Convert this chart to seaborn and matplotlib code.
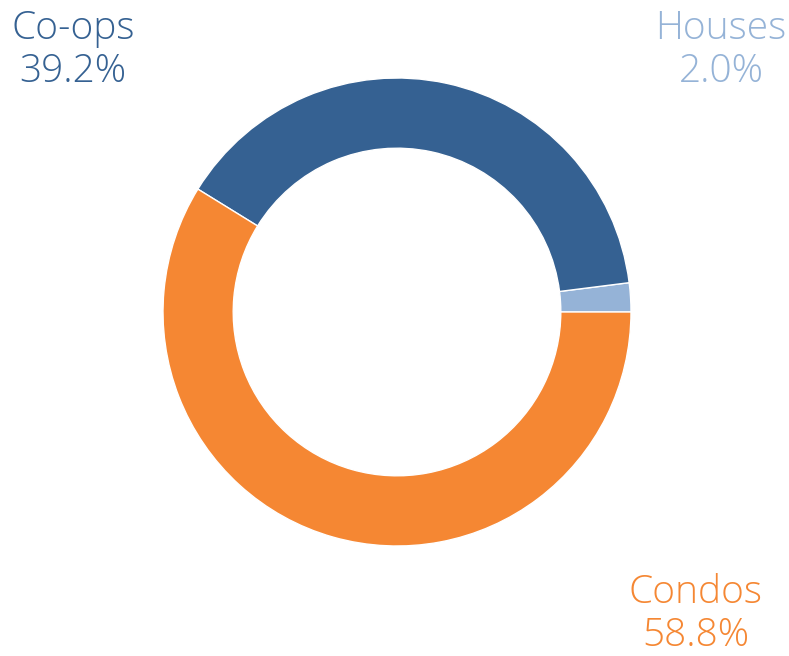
import matplotlib
matplotlib.use("Agg")
import matplotlib.pyplot as plt
import seaborn as sns

# Share of sales by property type
categories = ["Houses", "Co-ops", "Condos"]
shares = [2.0, 39.2, 58.8]
colors = ["#95b3d7", "#356192", "#f58733"]

sns.set_theme(style="white")
plt.rcParams["font.family"] = ["Open Sans", "DejaVu Sans"]

fig = plt.figure(figsize=(7.89, 6.56), dpi=100)
ax = fig.add_axes([0, 0, 1, 1])

ax.pie(shares, colors=colors, startangle=0, counterclock=True,
       center=(397, 344), radius=234,
       wedgeprops=dict(width=234 * 0.30, edgecolor="white", linewidth=1))

# pie() resets the limits, so set them afterwards
ax.set_xlim(0, 789)
ax.set_ylim(0, 656)
ax.set_aspect("equal")
ax.axis("off")

# label positions (pixel coords from bottom-left)
label_pos = {"Houses": (721, 606), "Co-ops": (73, 606), "Condos": (696, 42)}
for name, share, col in zip(categories, shares, colors):
    x, y = label_pos[name]
    ax.text(x, y, f"{name}\n{share:.1f}%", color=col, fontsize=28,
            fontweight="light", ha="center", va="center", linespacing=1.15)

fig.savefig("out.png", dpi=100)
